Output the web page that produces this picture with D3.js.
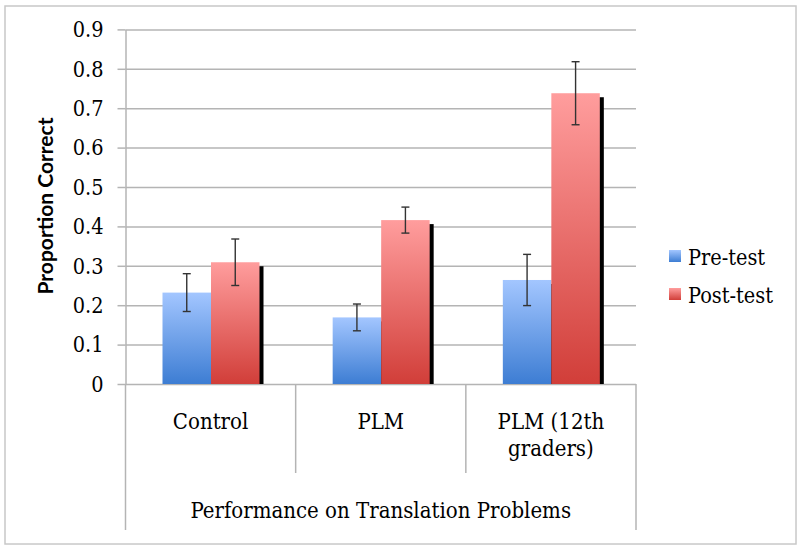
<!DOCTYPE html>
<html>
<head>
<meta charset="utf-8">
<script src="https://cdn.jsdelivr.net/npm/d3@7"></script>
<style>
  html, body { margin: 0; padding: 0; background: #fff; }
  .serif { font-family: "DejaVu Serif Condensed", "DejaVu Serif", serif; font-stretch: condensed; fill: #000; }
</style>
</head>
<body>
<svg id="chart" width="800" height="550"></svg>
<script>
const categories = ["Control", "PLM", "PLM (12th graders)"];
const categoryLines = [["Control"], ["PLM"], ["PLM (12th", "graders)"]];
const seriesNames = ["Pre-test", "Post-test"];
const preTest = [0.232, 0.169, 0.264];
const postTest = [0.309, 0.416, 0.738];
const preErr = [0.048, 0.034, 0.065];
const postErr = [0.059, 0.033, 0.080];
const yTicks = [0, 0.1, 0.2, 0.3, 0.4, 0.5, 0.6, 0.7, 0.8, 0.9];
const yTitle = "Proportion Correct";
const xTitle = "Performance on Translation Problems";

const svg = d3.select("#chart");

// outer chart border
svg.append("rect").attr("x", 5).attr("y", 6).attr("width", 791).attr("height", 538)
  .attr("fill", "#fff").attr("stroke", "#c8c8c8").attr("stroke-width", 1.5);

const defs = svg.append("defs");
const gradColors = [["#a3c6ff", "#3d7dd3"], ["#ff9d9d", "#d13e39"]];
gradColors.forEach((c, i) => {
  const g = defs.append("linearGradient").attr("id", "grad" + i)
    .attr("x1", 0).attr("y1", 0).attr("x2", 0).attr("y2", 1);
  g.append("stop").attr("offset", "0%").attr("stop-color", c[0]);
  g.append("stop").attr("offset", "100%").attr("stop-color", c[1]);
});

const plotLeft = 125.5, plotRight = 636, plotTop = 29.4, plotBottom = 384;

const y = d3.scaleLinear().domain([0, 0.9]).range([plotBottom, plotTop]);
const x0 = d3.scaleBand().domain(categories).range([plotLeft, plotRight]).padding(0);
const x1 = d3.scaleBand().domain(seriesNames).range([37, 134]).padding(0);

// gridlines
svg.append("g").attr("transform", `translate(${plotLeft},0)`)
  .call(d3.axisRight(y).tickValues(yTicks).tickSize(plotRight - plotLeft).tickFormat(""))
  .call(g => g.select(".domain").remove())
  .call(g => g.selectAll("line").attr("stroke", "#b4b4b4").attr("stroke-width", 1.5));

// y axis
svg.append("g").attr("transform", `translate(${plotLeft},0)`)
  .call(d3.axisLeft(y).tickValues(yTicks).tickSize(8).tickSizeOuter(0).tickPadding(14)
    .tickFormat(d => d === 0 ? "0" : d3.format(".1f")(d)))
  .call(g => g.select(".domain").attr("stroke", "#b4b4b4").attr("stroke-width", 1.5))
  .call(g => g.selectAll("line").attr("stroke", "#b4b4b4").attr("stroke-width", 1.5))
  .call(g => g.selectAll("text").attr("class", "serif").attr("font-size", 21.5).attr("dy", "0.34em"));

// category separators
const edges = categories.map(c => x0(c)).concat([x0(categories[categories.length - 1]) + x0.bandwidth()]);
svg.append("g").selectAll("line").data(edges).join("line")
  .attr("x1", d => d).attr("x2", d => d)
  .attr("y1", plotBottom)
  .attr("y2", (d, i) => (i === 0 || i === edges.length - 1) ? 530 : 473)
  .attr("stroke", "#b4b4b4").attr("stroke-width", 1.5);

// bars
const seriesData = [preTest, postTest];
const errData = [preErr, postErr];
seriesData.forEach((vals, si) => {
  const g = svg.append("g");
  categories.forEach((c, ci) => {
    const bx = x0(c) + x1(seriesNames[si]);
    const by = y(vals[ci]);
    const bw = x1.bandwidth();
    // shadow
    g.append("rect").attr("x", bx + 4).attr("y", by + 4)
      .attr("width", bw).attr("height", plotBottom - by - 4).attr("fill", "#000");
    g.append("rect").attr("x", bx).attr("y", by)
      .attr("width", bw).attr("height", plotBottom - by)
      .attr("fill", `url(#grad${si})`);
  });
});

// error bars
seriesData.forEach((vals, si) => {
  const g = svg.append("g").attr("stroke", "#333").attr("stroke-width", 1.4);
  categories.forEach((c, ci) => {
    const cx = x0(c) + x1(seriesNames[si]) + x1.bandwidth() / 2;
    const top = y(vals[ci] + errData[si][ci]);
    const bot = y(vals[ci] - errData[si][ci]);
    g.append("line").attr("x1", cx).attr("x2", cx).attr("y1", top).attr("y2", bot);
    g.append("line").attr("x1", cx - 4).attr("x2", cx + 4).attr("y1", top).attr("y2", top);
    g.append("line").attr("x1", cx - 4).attr("x2", cx + 4).attr("y1", bot).attr("y2", bot);
  });
});

// category labels
categories.forEach((c, ci) => {
  const t = svg.append("text").attr("class", "serif").attr("font-size", 22)
    .attr("text-anchor", "middle")
    .attr("x", x0(c) + x0.bandwidth() / 2).attr("y", 429);
  categoryLines[ci].forEach((line, li) => {
    t.append("tspan").attr("x", x0(c) + x0.bandwidth() / 2).attr("dy", li === 0 ? 0 : 27).text(line);
  });
});

// x title
svg.append("text").attr("class", "serif").attr("font-size", 22)
  .attr("text-anchor", "middle").attr("x", (plotLeft + plotRight) / 2).attr("y", 518)
  .text(xTitle);

// y title
svg.append("text").attr("transform", "translate(53,206) rotate(-90)")
  .attr("text-anchor", "middle").attr("font-family", "Lato, sans-serif")
  .attr("font-weight", "bold").attr("font-size", 21).attr("fill", "#000")
  .text(yTitle);

// legend
const legend = svg.append("g").attr("transform", "translate(669,250)");
seriesNames.forEach((s, i) => {
  const g = legend.append("g").attr("transform", `translate(0,${i * 38})`);
  g.append("rect").attr("width", 12).attr("height", 12).attr("fill", `url(#grad${i})`);
  g.append("text").attr("class", "serif").attr("font-size", 21.5)
    .attr("x", 19).attr("y", 15).text(s);
});
</script>
</body>
</html>
